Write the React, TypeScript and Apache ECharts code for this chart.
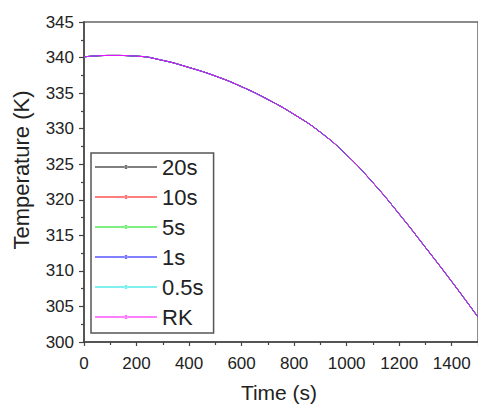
import React, { useEffect, useRef } from "react";
import * as echarts from "echarts";

const times = [0, 100, 200, 300, 400, 500, 600, 700, 800, 900, 1000, 1100, 1200, 1300, 1400, 1500];
const temp20s = [340.1, 340.3, 340.2, 339.6, 338.6, 337.4, 335.9, 334.1, 332.0, 329.5, 326.3, 322.4, 318.0, 313.3, 308.5, 303.5];
const temp10s = [340.1, 340.3, 340.2, 339.6, 338.6, 337.4, 335.9, 334.1, 332.0, 329.5, 326.3, 322.4, 318.0, 313.3, 308.5, 303.5];
const temp5s = [340.1, 340.3, 340.2, 339.6, 338.6, 337.4, 335.9, 334.1, 332.0, 329.5, 326.3, 322.4, 318.0, 313.3, 308.5, 303.5];
const temp1s = [340.1, 340.3, 340.2, 339.6, 338.6, 337.4, 335.9, 334.1, 332.0, 329.5, 326.3, 322.4, 318.0, 313.3, 308.5, 303.5];
const temp05s = [340.1, 340.3, 340.2, 339.6, 338.6, 337.4, 335.9, 334.1, 332.0, 329.5, 326.3, 322.4, 318.0, 313.3, 308.5, 303.5];
const tempRK = [340.1, 340.3, 340.2, 339.6, 338.6, 337.4, 335.9, 334.1, 332.0, 329.5, 326.3, 322.4, 318.0, 313.3, 308.5, 303.5];

const seriesNames = ["20s", "10s", "5s", "1s", "0.5s", "RK"];
const seriesValues = [temp20s, temp10s, temp5s, temp1s, temp05s, tempRK];
const seriesColors = ["#000000", "#ff0000", "#00e000", "#0000ff", "#00e0e0", "#ff00ff"];

const xAxisTitle = "Time (s)";
const yAxisTitle = "Temperature (K)";

const FONT = "Liberation Sans, Arial, Helvetica, sans-serif";
const LEGEND_ICON =
  "path://M0,2.55 L62,2.55 L62,3.45 L0,3.45 Z M29.2,3 A1.8,1.8 0 1 0 32.8,3 A1.8,1.8 0 1 0 29.2,3 Z";

export default function App() {
  const ref = useRef<HTMLDivElement>(null);
  useEffect(() => {
    if (!ref.current) return;
    const chart = echarts.init(ref.current, null, { renderer: "svg" });
    chart.setOption({
      animation: false,
      backgroundColor: "#ffffff",
      textStyle: { fontFamily: FONT },
      grid: {
        left: 84,
        top: 22,
        width: 395,
        height: 320,
        show: true,
        borderColor: "#666666",
        borderWidth: 1.5,
        backgroundColor: "transparent",
      },
      legend: {
        orient: "vertical",
        left: 91,
        top: 153,
        padding: [3, 10, 5, 4],
        itemGap: 8,
        itemWidth: 62,
        itemHeight: 6,
        borderColor: "#555555",
        borderWidth: 1.5,
        backgroundColor: "#ffffff",
        textStyle: { fontSize: 22, color: "#222222", fontFamily: FONT, lineHeight: 22 },
        data: seriesNames.map((n) => ({ name: n, icon: LEGEND_ICON })),
      },
      graphic: [
        {
          type: "text",
          x: 279,
          y: 392,
          style: {
            text: xAxisTitle,
            font: "21px " + FONT,
            fill: "#222222",
            align: "center",
            verticalAlign: "middle",
          },
        },
        {
          type: "text",
          x: 21,
          y: 170,
          rotation: Math.PI / 2,
          style: {
            text: yAxisTitle,
            font: "22px " + FONT,
            fill: "#222222",
            align: "center",
            verticalAlign: "middle",
          },
        },
      ],
      xAxis: {
        type: "value",
        min: 0,
        max: 1500,
        interval: 200,
        axisLine: { show: true, onZero: false, lineStyle: { color: "#444444", width: 1.5 } },
        axisTick: { show: true, length: 4, lineStyle: { color: "#444444", width: 1.2 } },
        minorTick: { show: true, splitNumber: 2, length: 3, lineStyle: { color: "#444444", width: 1.2 } },
        axisLabel: {
          fontSize: 17,
          color: "#222222",
          margin: 13,
          showMaxLabel: false,
          fontFamily: FONT,
          formatter: (v: number) => String(v),
        },
        splitLine: { show: false },
      },
      yAxis: {
        type: "value",
        min: 300,
        max: 345,
        interval: 5,
        axisLine: { show: true, onZero: false, lineStyle: { color: "#444444", width: 1.5 } },
        axisTick: { show: true, length: 5, lineStyle: { color: "#444444", width: 1.2 } },
        minorTick: { show: true, splitNumber: 2, length: 3, lineStyle: { color: "#444444", width: 1.2 } },
        axisLabel: { fontSize: 17, color: "#222222", margin: 10, fontFamily: FONT },
        splitLine: { show: false },
      },
      series: seriesNames.map((name, i) => ({
        name,
        type: "line",
        data: times.map((t, j) => [t, seriesValues[i][j]]),
        smooth: true,
        showSymbol: false,
        symbol: "none",
        lineStyle: { color: seriesColors[i], width: 1 },
        itemStyle: { color: seriesColors[i] },
        z: 2 + i,
      })),
    });
    return () => chart.dispose();
  }, []);
  return (
    <div
      ref={ref}
      style={{ position: "fixed", left: 0, top: 0, width: 478, height: 404 }}
    />
  );
}
